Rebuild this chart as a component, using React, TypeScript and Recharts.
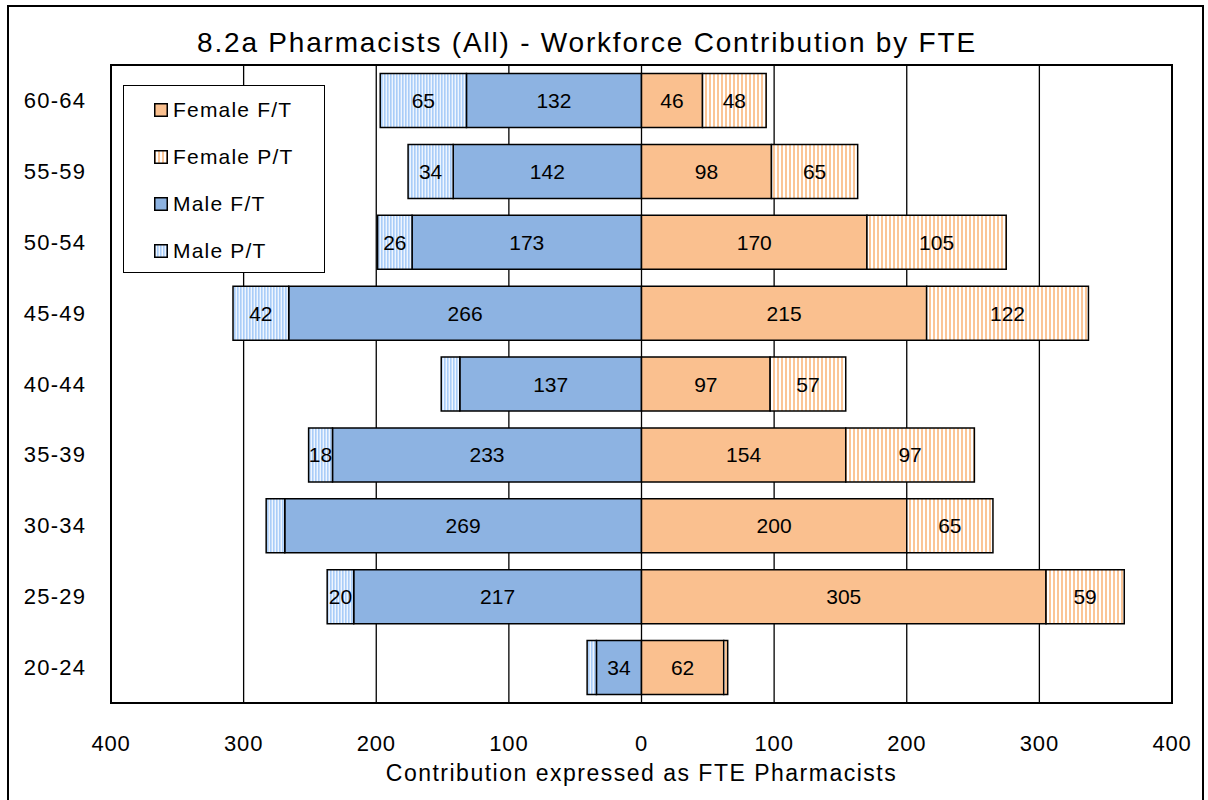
import React from 'react';
import { BarChart, Bar, XAxis, YAxis, CartesianGrid, ReferenceArea, Legend, LabelList } from 'recharts';

const ages = ['60-64', '55-59', '50-54', '45-49', '40-44', '35-39', '30-34', '25-29', '20-24'];
const maleFT = [132, 142, 173, 266, 137, 233, 269, 217, 34];
const malePT = [65, 34, 26, 42, 14, 18, 14, 20, 7];
const femaleFT = [46, 98, 170, 215, 97, 154, 200, 305, 62];
const femalePT = [48, 65, 105, 122, 57, 97, 65, 59, 3];
const xTicks = [-400, -300, -200, -100, 0, 100, 200, 300, 400];

const FONT = '"Liberation Sans", Arial, sans-serif';

// males drawn to the left as negatives
const data = ages.map((age, i) => ({
  age,
  maleFT: -maleFT[i],
  malePT: -malePT[i],
  femaleFT: femaleFT[i],
  femalePT: femalePT[i],
}));

const legendItems = [
  { name: 'Female F/T', fill: '#fac08f' },
  { name: 'Female P/T', fill: 'url(#femalePT)' },
  { name: 'Male F/T', fill: '#8db3e2' },
  { name: 'Male P/T', fill: 'url(#malePT)' },
];

const XTick = (props: any) => {
  const { x, y, payload } = props;
  return (
    <text x={x} y={y + 40} textAnchor="middle" dominantBaseline="central" fontSize={22} letterSpacing={0.8} fontFamily={FONT} fill="#000">
      {Math.abs(payload.value)}
    </text>
  );
};

const YTick = (props: any) => {
  const { x, y, payload } = props;
  return (
    <text x={x - 56} y={y} textAnchor="middle" dominantBaseline="central" fontSize={22} letterSpacing={1.2} fontFamily={FONT} fill="#000">
      {payload.value}
    </text>
  );
};

const BarLabel = (props: any) => {
  const { x, y, width, height, value } = props;
  const v = Math.abs(Number(value));
  if (!v || v < 15) return null;
  return (
    <text x={x + width / 2} y={y + height / 2} textAnchor="middle" dominantBaseline="central" fontSize={21} fontFamily={FONT} fill="#000">
      {v}
    </text>
  );
};

const AxisTitle = (props: any) => {
  const { viewBox } = props;
  return (
    <text x={viewBox.x + viewBox.width / 2} y={viewBox.y + 70} textAnchor="middle" dominantBaseline="central" fontSize={23} letterSpacing={1.5} fontFamily={FONT} fill="#000">
      Contribution expressed as FTE Pharmacists
    </text>
  );
};

const LegendBox = () => (
  <div style={{ width: 202, height: 188, boxSizing: 'border-box', border: '1.5px solid #000', background: '#fff', fontFamily: FONT }}>
    {legendItems.map((it) => (
      <div key={it.name} style={{ height: 47, display: 'flex', alignItems: 'center', paddingLeft: 30 }}>
        <svg width={14} height={14} style={{ marginRight: 5 }}>
          <rect x={0.75} y={0.75} width={12.5} height={12.5} fill={it.fill} stroke="#000" strokeWidth={1.5} />
        </svg>
        <span style={{ fontSize: 21, letterSpacing: 1.2, color: '#000' }}>{it.name}</span>
      </div>
    ))}
  </div>
);

export default function App() {
  return (
    <div style={{ position: 'absolute', left: 7, top: 5, width: 1197, height: 800, border: '2px solid #000', boxSizing: 'border-box', background: '#fff' }}>
      <div style={{ position: 'absolute', left: 0, top: 20, width: 1156, textAlign: 'center', fontFamily: FONT, fontSize: 28, letterSpacing: 1.8, lineHeight: '32px', color: '#000' }}>
        8.2a Pharmacists (All) - Workforce Contribution by FTE
      </div>
      <BarChart
        layout="vertical"
        width={1193}
        height={793}
        data={data}
        stackOffset="sign"
        barCategoryGap="12%"
        margin={{ top: 58, right: 30, left: 0, bottom: 0 }}
      >
        <defs>
          <pattern id="malePT" width={3} height={4} patternUnits="userSpaceOnUse">
            <rect width={3} height={4} fill="#eef5fe" />
            <rect width={1.6} height={4} fill="#a9cdf8" />
          </pattern>
          <pattern id="femalePT" width={4} height={4} patternUnits="userSpaceOnUse">
            <rect width={4} height={4} fill="#ffffff" />
            <rect width={2} height={4} fill="#fbc596" />
          </pattern>
        </defs>
        <CartesianGrid horizontal={false} stroke="#000" strokeWidth={1.3} />
        <XAxis
          type="number"
          domain={[-400, 400]}
          ticks={xTicks}
          height={97}
          tickLine={false}
          axisLine={false}
          tickSize={0}
          tickMargin={0}
          tick={<XTick />}
          label={{ content: <AxisTitle /> }}
        />
        <YAxis
          type="category"
          dataKey="age"
          width={102}
          tickLine={false}
          axisLine={false}
          tickSize={0}
          tickMargin={0}
          tick={<YTick />}
        />
        <Legend
          layout="vertical"
          align="center"
          verticalAlign="middle"
          content={<LegendBox />}
          wrapperStyle={{ position: 'absolute', left: 114, top: 78, width: 202, height: 188 }}
        />
        <Bar dataKey="maleFT" name="Male F/T" stackId="a" fill="#8db3e2" stroke="#000" strokeWidth={1.5} isAnimationActive={false}>
          <LabelList dataKey="maleFT" content={<BarLabel />} />
        </Bar>
        <Bar dataKey="malePT" name="Male P/T" stackId="a" fill="url(#malePT)" stroke="#000" strokeWidth={1.5} isAnimationActive={false}>
          <LabelList dataKey="malePT" content={<BarLabel />} />
        </Bar>
        <Bar dataKey="femaleFT" name="Female F/T" stackId="a" fill="#fac08f" stroke="#000" strokeWidth={1.5} isAnimationActive={false}>
          <LabelList dataKey="femaleFT" content={<BarLabel />} />
        </Bar>
        <Bar dataKey="femalePT" name="Female P/T" stackId="a" fill="url(#femalePT)" stroke="#000" strokeWidth={1.5} isAnimationActive={false}>
          <LabelList dataKey="femalePT" content={<BarLabel />} />
        </Bar>
        <ReferenceArea x1={-400} x2={400} fill="none" stroke="#000" strokeWidth={2} />
      </BarChart>
    </div>
  );
}
